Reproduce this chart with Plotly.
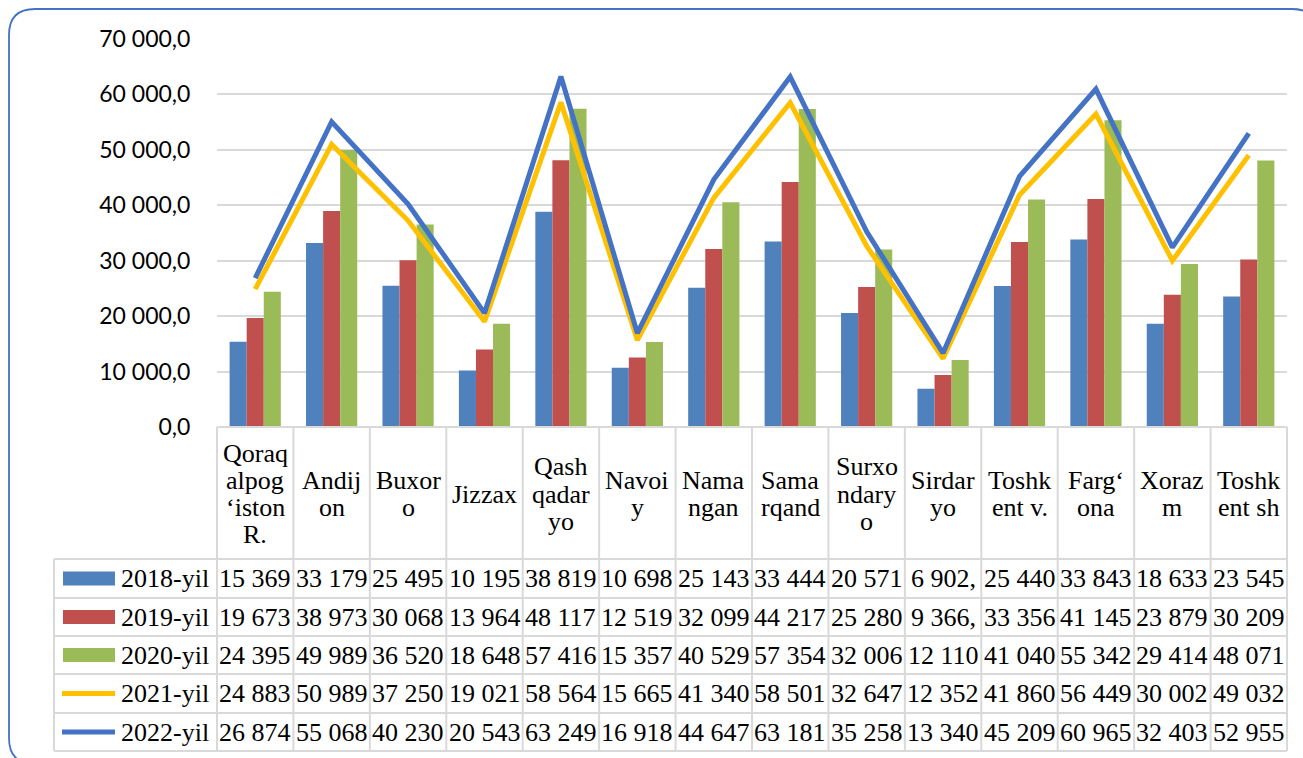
import plotly.graph_objects as go

# ---------------- data ----------------
categories = ["Qoraqalpog‘iston R.", "Andijon", "Buxoro", "Jizzax", "Qashqadaryo", "Navoiy",
              "Namangan", "Samarqand", "Surxondaryo", "Sirdaryo", "Toshkent v.", "Farg‘ona",
              "Xorazm", "Toshkent sh"]
category_lines = [["Qoraq", "alpog", "‘iston", "R."], ["Andij", "on"], ["Buxor", "o"], ["Jizzax"],
                  ["Qash", "qadar", "yo"], ["Navoi", "y"], ["Nama", "ngan"], ["Sama", "rqand"],
                  ["Surxo", "ndary", "o"], ["Sirdar", "yo"], ["Toshk", "ent v."], ["Farg‘", "ona"],
                  ["Xoraz", "m"], ["Toshk", "ent sh"]]
series_names = ["2018-yil", "2019-yil", "2020-yil", "2021-yil", "2022-yil"]
y2018 = [15369, 33179, 25495, 10195, 38819, 10698, 25143, 33444, 20571, 6902, 25440, 33843, 18633, 23545]
y2019 = [19673, 38973, 30068, 13964, 48117, 12519, 32099, 44217, 25280, 9366, 33356, 41145, 23879, 30209]
y2020 = [24395, 49989, 36520, 18648, 57416, 15357, 40529, 57354, 32006, 12110, 41040, 55342, 29414, 48071]
y2021 = [24883, 50989, 37250, 19021, 58564, 15665, 41340, 58501, 32647, 12352, 41860, 56449, 30002, 49032]
y2022 = [26874, 55068, 40230, 20543, 63249, 16918, 44647, 63181, 35258, 13340, 45209, 60965, 32403, 52955]
series_values = [y2018, y2019, y2020, y2021, y2022]

# ---------------- styling ----------------
W, H = 1303, 758
bar_colors = ["#4F81BD", "#C0504D", "#9BBB59"]
line_colors = ["#FFC000", "#4472C4"]
grid_col = "#D9D9D9"
serif = "Liberation Serif"
tsize = 26


def px(x):
    return x / W


def py(y):
    return 1 - y / H


plot_left, plot_right = 217, 1287
plot_top, plot_bottom = 39, 427
n = len(categories)
col_w = (plot_right - plot_left) / n

fig = go.Figure()
for i in range(3):
    fig.add_trace(go.Bar(x=categories, y=series_values[i], name=series_names[i],
                         marker=dict(color=bar_colors[i], line=dict(width=0))))
for i in range(2):
    fig.add_trace(go.Scatter(x=categories, y=series_values[3 + i], name=series_names[3 + i],
                             mode="lines", line=dict(color=line_colors[i], width=5)))

shapes = []
annotations = []

# table grid
row_bounds = [559, 598, 636, 674, 713, 751]
cat_top = 427
for yb in row_bounds:
    shapes.append(dict(type="line", xref="paper", yref="paper", x0=px(54), x1=px(plot_right),
                       y0=py(yb), y1=py(yb), line=dict(color=grid_col, width=2)))
shapes.append(dict(type="line", xref="paper", yref="paper", x0=px(plot_left), x1=px(plot_right),
                   y0=py(cat_top), y1=py(cat_top), line=dict(color=grid_col, width=2)))
for k in range(n + 1):
    xb = plot_left + k * col_w
    shapes.append(dict(type="line", xref="paper", yref="paper", x0=px(xb), x1=px(xb),
                       y0=py(cat_top), y1=py(row_bounds[-1]), line=dict(color=grid_col, width=2)))
shapes.append(dict(type="line", xref="paper", yref="paper", x0=px(54), x1=px(54),
                   y0=py(row_bounds[0]), y1=py(row_bounds[-1]), line=dict(color=grid_col, width=2)))

# category labels
cat_center = 494
line_sp = 27.3
for k, lines in enumerate(category_lines):
    cx = plot_left + (k + 0.5) * col_w
    m = len(lines)
    for j, t in enumerate(lines):
        yy = cat_center + (j - (m - 1) / 2) * line_sp
        annotations.append(dict(xref="paper", yref="paper", x=px(cx), y=py(yy), text=t,
                                showarrow=False, xanchor="center", yanchor="middle",
                                font=dict(family=serif, size=tsize, color="black")))

# data rows
for r, (name, vals) in enumerate(zip(series_names, series_values)):
    cy = (row_bounds[r] + row_bounds[r + 1]) / 2
    if r < 3:
        shapes.append(dict(type="rect", xref="paper", yref="paper", x0=px(63), x1=px(115),
                           y0=py(cy - 7), y1=py(cy + 7), fillcolor=bar_colors[r], line=dict(width=0)))
    else:
        shapes.append(dict(type="line", xref="paper", yref="paper", x0=px(62), x1=px(115),
                           y0=py(cy), y1=py(cy), line=dict(color=line_colors[r - 3], width=5)))
    annotations.append(dict(xref="paper", yref="paper", x=px(119), y=py(cy), text=name,
                            showarrow=False, xanchor="left", yanchor="middle",
                            font=dict(family=serif, size=tsize, color="black")))
    for k, v in enumerate(vals):
        cx = plot_left + (k + 0.5) * col_w
        txt = f"{v:,.1f}".replace(",", " ").replace(".", ",")[:6]
        annotations.append(dict(xref="paper", yref="paper", x=px(cx), y=py(cy), text=txt,
                                showarrow=False, xanchor="center", yanchor="middle",
                                font=dict(family=serif, size=tsize, color="black")))

# rounded outer border (partly beyond the right/bottom edges, as in the reference)
x0b, y0b, x1b, y1b, rr = 9, 9, 1318, 764, 26
path = (f"M {px(x0b)},{py(y1b - rr)} L {px(x0b)},{py(y0b + rr)} "
        f"Q {px(x0b)},{py(y0b)} {px(x0b + rr)},{py(y0b)} "
        f"L {px(x1b - rr)},{py(y0b)} Q {px(x1b)},{py(y0b)} {px(x1b)},{py(y0b + rr)} "
        f"L {px(x1b)},{py(y1b - rr)} Q {px(x1b)},{py(y1b)} {px(x1b - rr)},{py(y1b)} "
        f"L {px(x0b + rr)},{py(y1b)} Q {px(x0b)},{py(y1b)} {px(x0b)},{py(y1b - rr)} Z")
shapes.append(dict(type="path", xref="paper", yref="paper", path=path,
                   line=dict(color="#4472C4", width=1.8), fillcolor="rgba(0,0,0,0)"))

fig.update_layout(
    width=W, height=H, autosize=False,
    margin=dict(l=0, r=0, t=0, b=0, pad=0, autoexpand=False),
    paper_bgcolor="white", plot_bgcolor="white",
    barmode="group", bargap=0.33, bargroupgap=0,
    showlegend=False,
    separators=", ",
    shapes=shapes, annotations=annotations,
    xaxis=dict(domain=[px(plot_left), px(plot_right)], range=[-0.5, n - 0.5], automargin=False,
               showticklabels=False, showgrid=False, zeroline=False, showline=False, ticks=""),
    yaxis=dict(domain=[py(plot_bottom), py(plot_top)], range=[0, 70000], dtick=10000,
               automargin=False,
               tickformat=",.1f", showgrid=True, gridcolor=grid_col, gridwidth=2,
               zeroline=False, showline=False, ticks="outside", ticklen=21,
               tickcolor="rgba(0,0,0,0)",
               tickfont=dict(family="Lato", size=23, color="black")),
)

fig.write_html("out.html", config={"displayModeBar": False},
               post_script="document.body.style.margin='0';document.body.style.overflow='hidden';")
